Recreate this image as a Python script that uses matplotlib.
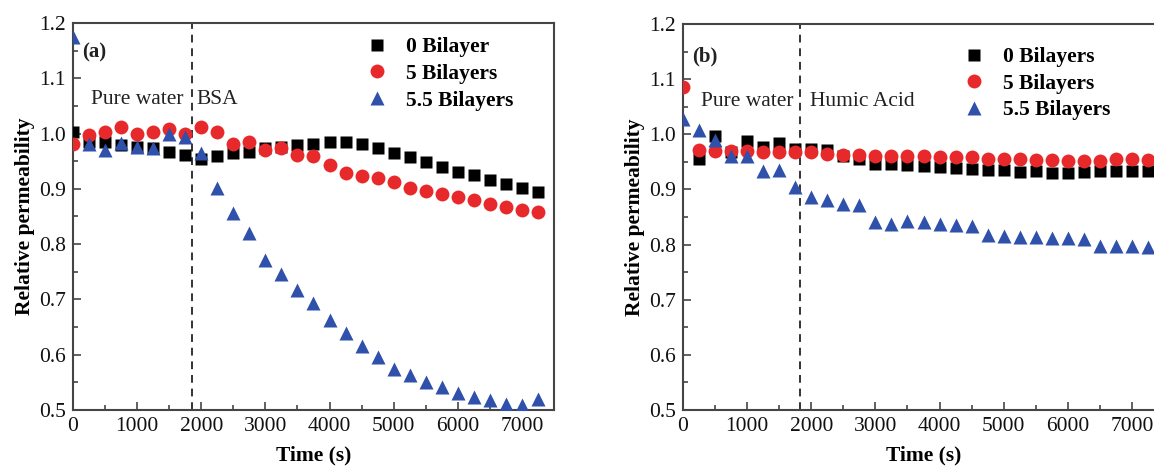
import matplotlib
matplotlib.use("Agg")
import matplotlib.pyplot as plt
from matplotlib.ticker import MultipleLocator

plt.rcParams['font.family'] = ['Liberation Serif', 'DejaVu Serif']

# ---- data: panel (a) BSA ----
time_a = [0, 250, 500, 750, 1000, 1250, 1500, 1750, 2000, 2250, 2500, 2750,
          3000, 3250, 3500, 3750, 4000, 4250, 4500, 4750, 5000, 5250, 5500,
          5750, 6000, 6250, 6500, 6750, 7000, 7250]
a_0bl = [1.002, 0.985, 0.985, 0.979, 0.976, 0.974, 0.967, 0.961, 0.954, 0.959,
         0.965, 0.966, 0.973, 0.976, 0.979, 0.981, 0.985, 0.984, 0.982, 0.973,
         0.965, 0.958, 0.949, 0.939, 0.931, 0.925, 0.916, 0.909, 0.901, 0.895]
a_5bl = [0.981, 0.998, 1.003, 1.011, 0.999, 1.003, 1.008, 1.000, 1.012, 1.003,
         0.982, 0.985, 0.970, 0.973, 0.961, 0.959, 0.943, 0.928, 0.923, 0.919,
         0.913, 0.901, 0.897, 0.891, 0.886, 0.880, 0.873, 0.868, 0.862, 0.859]
a_55bl = [1.175, 0.982, 0.970, 0.983, 0.976, 0.973, 1.000, 0.994, 0.964, 0.901,
          0.856, 0.820, 0.772, 0.746, 0.717, 0.693, 0.662, 0.639, 0.615, 0.596,
          0.574, 0.563, 0.551, 0.541, 0.531, 0.524, 0.518, 0.511, 0.509, 0.519]

# ---- data: panel (b) Humic Acid ----
time_b = time_a
time_b0 = time_a[1:]
b_0bl = [0.955, 0.997, 0.967, 0.988, 0.977, 0.985, 0.973, 0.973, 0.972, 0.961,
         0.955, 0.947, 0.946, 0.944, 0.943, 0.940, 0.939, 0.937, 0.936, 0.936,
         0.931, 0.933, 0.929, 0.929, 0.931, 0.933, 0.934, 0.934, 0.934]
b_5bl = [1.085, 0.972, 0.970, 0.970, 0.970, 0.967, 0.967, 0.967, 0.967, 0.965,
         0.962, 0.962, 0.960, 0.960, 0.960, 0.961, 0.959, 0.959, 0.958, 0.956,
         0.956, 0.955, 0.953, 0.953, 0.952, 0.952, 0.952, 0.955, 0.955, 0.953]
b_55bl = [1.028, 1.008, 0.990, 0.960, 0.960, 0.934, 0.935, 0.905, 0.887, 0.880,
          0.874, 0.871, 0.841, 0.838, 0.843, 0.841, 0.838, 0.835, 0.833, 0.817,
          0.815, 0.813, 0.813, 0.812, 0.812, 0.810, 0.797, 0.797, 0.797, 0.795]

labels_a = ['0 Bilayer', '5 Bilayers', '5.5 Bilayers']
labels_b = ['0 Bilayers', '5 Bilayers', '5.5 Bilayers']
switch_a = 1850
switch_b = 1830

C_BLACK = '#000000'
C_RED = '#e8292b'
C_BLUE = '#2f50ab'
SPINE = '#454545'

fig = plt.figure(figsize=(11.54, 4.75), dpi=100)
ax1 = fig.add_axes([73/1154, 65/475, 481/1154, 387/475])
ax2 = fig.add_axes([683/1154, 65/475, 481/1154, 386/475])


def style(ax, dash_x, tag, tag_y):
    ax.set_xlim(0, 7500)
    ax.set_ylim(0.5, 1.2)
    ax.xaxis.set_major_locator(MultipleLocator(1000))
    ax.xaxis.set_minor_locator(MultipleLocator(500))
    ax.yaxis.set_major_locator(MultipleLocator(0.1))
    ax.yaxis.set_minor_locator(MultipleLocator(0.05))
    ax.yaxis.set_major_formatter(matplotlib.ticker.FormatStrFormatter('%.1f'))
    ax.tick_params(which='both', direction='in', top=False, right=False,
                   color=SPINE, width=1.2, labelsize=15.5, pad=5,
                   labelcolor='#111111')
    ax.tick_params(which='major', length=6)
    ax.tick_params(which='minor', length=3.5)
    for s in ax.spines.values():
        s.set_color(SPINE)
        s.set_linewidth(1.5)
    ax.axvline(dash_x, color='#333333', linestyle=(0, (4, 3)), linewidth=1.4, zorder=1)
    ax.set_xlabel('Time (s)', fontsize=15.5, fontweight='bold', labelpad=7)
    ax.set_ylabel('Relative permeability', fontsize=15.5, fontweight='bold', labelpad=3)
    ax.text(0.02, tag_y, tag, transform=ax.transAxes, fontsize=15,
            fontweight='bold', va='center', ha='left', color='#222222')


style(ax1, switch_a, '(a)', 0.923)
style(ax2, switch_b, '(b)', 0.917)

ms_sq, ms_c, ms_t = 9, 10, 10.5
ax1.plot(time_a, a_0bl, 's', color=C_BLACK, ms=ms_sq, mec='none', label=labels_a[0], zorder=3)
ax1.plot(time_a, a_5bl, 'o', color=C_RED, ms=ms_c, mec='none', label=labels_a[1], zorder=4)
ax1.plot(time_a, a_55bl, '^', color=C_BLUE, ms=ms_t, mec='none', label=labels_a[2], zorder=5)

ax2.plot(time_b0, b_0bl, 's', color=C_BLACK, ms=ms_sq, mec='none', label=labels_b[0], zorder=3)
ax2.plot(time_b, b_5bl, 'o', color=C_RED, ms=ms_c, mec='none', label=labels_b[1], zorder=4)
ax2.plot(time_b, b_55bl, '^', color=C_BLUE, ms=ms_t, mec='none', label=labels_b[2], zorder=5)

# annotations
ax1.text(switch_a - 120, 1.062, 'Pure water', fontsize=15.5, ha='right', va='center', color='#222222')
ax1.text(switch_a + 80, 1.062, 'BSA', fontsize=15.5, ha='left', va='center', color='#222222')
ax2.text(switch_b - 110, 1.059, 'Pure water', fontsize=15.5, ha='right', va='center', color='#222222')
ax2.text(switch_b + 150, 1.059, 'Humic Acid', fontsize=15.5, ha='left', va='center', color='#222222')

leg_kw = dict(frameon=False, prop={'weight': 'bold', 'size': 15.5},
              handlelength=1.0, handletextpad=0.85, labelspacing=0.3,
              borderaxespad=0.0)
ax1.legend(loc='upper left', bbox_to_anchor=(0.592, 0.985), **leg_kw)
ax2.legend(loc='upper left', bbox_to_anchor=(0.565, 0.962), **leg_kw)

fig.savefig('out.png', dpi=100)
